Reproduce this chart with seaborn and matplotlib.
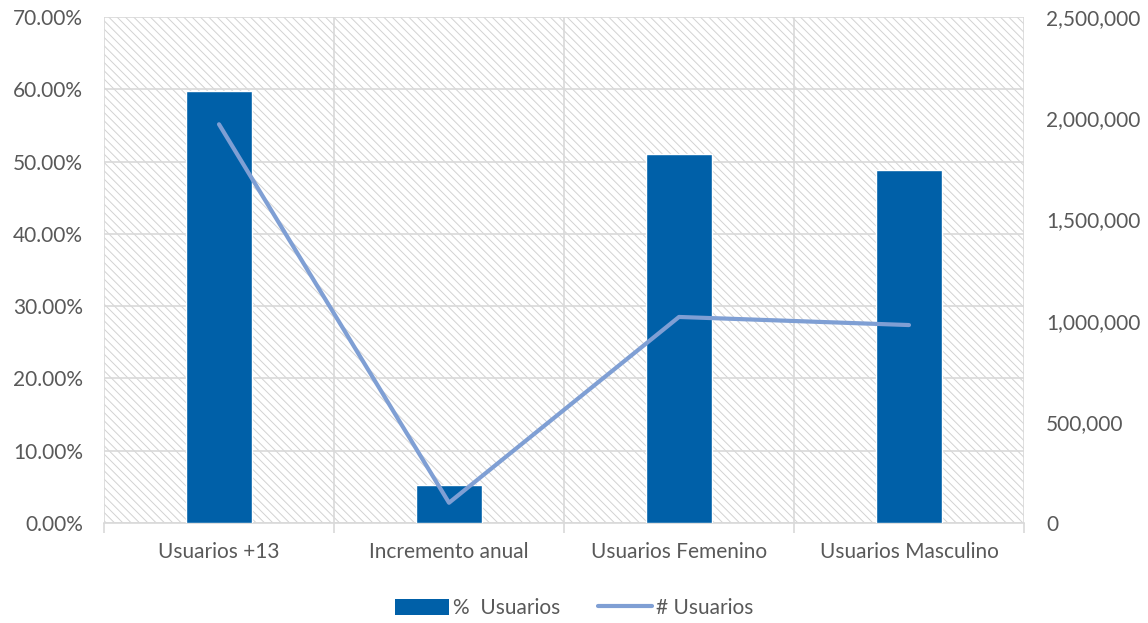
import matplotlib.pyplot as plt
import seaborn as sns
import numpy as np
from matplotlib.patches import Rectangle, Patch
from matplotlib.lines import Line2D
from matplotlib.ticker import FuncFormatter, FixedLocator

# Data
categories = ['Usuarios +13', 'Incremento anual', 'Usuarios Femenino', 'Usuarios Masculino']
pct_usuarios = [0.597, 0.052, 0.510, 0.489]
num_usuarios = [1970000, 100000, 1018000, 978000]

bar_color = '#0060a8'
line_color = '#7f9fd4'
grid_color = '#d9d9d9'
text_color = '#595959'

sns.set_theme(style='white')
plt.rcParams['font.family'] = ['Lato', 'DejaVu Sans']
plt.rcParams['hatch.linewidth'] = 0.7
plt.rcParams['hatch.color'] = '#d2d2d2'

fig = plt.figure(figsize=(11.48, 6.23), dpi=100)
ax1 = fig.add_axes([104 / 1148, 1 - 523 / 623, 920 / 1148, 506 / 623])

# hatched plot background
bg = Rectangle((0, 0), 1, 1, transform=ax1.transAxes, facecolor='white',
               edgecolor='#d2d2d2', hatch='\\\\\\\\', linewidth=0, zorder=-2)
ax1.add_patch(bg)

sns.barplot(x=categories, y=pct_usuarios, color=bar_color, width=0.29,
            saturation=1, ax=ax1, zorder=3)
ax1.set_xlim(-0.5, 3.5)
ax1.set_ylim(0, 0.7)
ax1.set_yticks(np.arange(0, 0.71, 0.1))
ax1.yaxis.set_major_formatter(FuncFormatter(lambda v, p: f'{v * 100:.2f}%'))
ax1.xaxis.set_minor_locator(FixedLocator([-0.5, 0.5, 1.5, 2.5, 3.5]))
ax1.set_axisbelow(True)
ax1.grid(axis='y', which='major', color=grid_color, linewidth=1.2)
ax1.grid(axis='x', which='minor', color=grid_color, linewidth=1.2)
ax1.tick_params(axis='x', which='major', length=0, pad=14, labelsize=15, labelcolor=text_color)
ax1.tick_params(axis='x', which='minor', length=7, color=grid_color, width=1.2, bottom=True)
ax1.tick_params(axis='y', length=0, pad=15, labelsize=15, labelcolor=text_color)
ax1.set_xlabel('')
ax1.set_ylabel('')
for s in ['top', 'left', 'right']:
    ax1.spines[s].set_visible(False)
ax1.spines['bottom'].set_color(grid_color)
ax1.spines['bottom'].set_linewidth(1.2)

ax2 = ax1.twinx()
sns.lineplot(x=np.arange(len(categories)), y=num_usuarios, color=line_color,
             linewidth=3, ax=ax2, solid_capstyle='round')
ax2.set_ylim(0, 2500000)
ax2.set_yticks(np.arange(0, 2500001, 500000))
ax2.yaxis.set_major_formatter(FuncFormatter(lambda v, p: f'{int(v):,}'))
ax2.tick_params(axis='y', length=0, pad=16, labelsize=15, labelcolor=text_color)
ax2.set_ylabel('')
for s in ax2.spines.values():
    s.set_visible(False)
ax2.grid(False)

handles = [Patch(facecolor=bar_color, edgecolor='none'),
           Line2D([0], [0], color=line_color, linewidth=3)]
fig.legend(handles, ['%  Usuarios', '# Usuarios'], loc='center',
           bbox_to_anchor=(0.5, 1 - 608 / 623), ncol=2, frameon=False,
           fontsize=15, labelcolor=text_color, handlelength=2.6,
           handleheight=0.8, handletextpad=0.2, columnspacing=1.8)

fig.savefig('out.png', dpi=100, facecolor='white')
